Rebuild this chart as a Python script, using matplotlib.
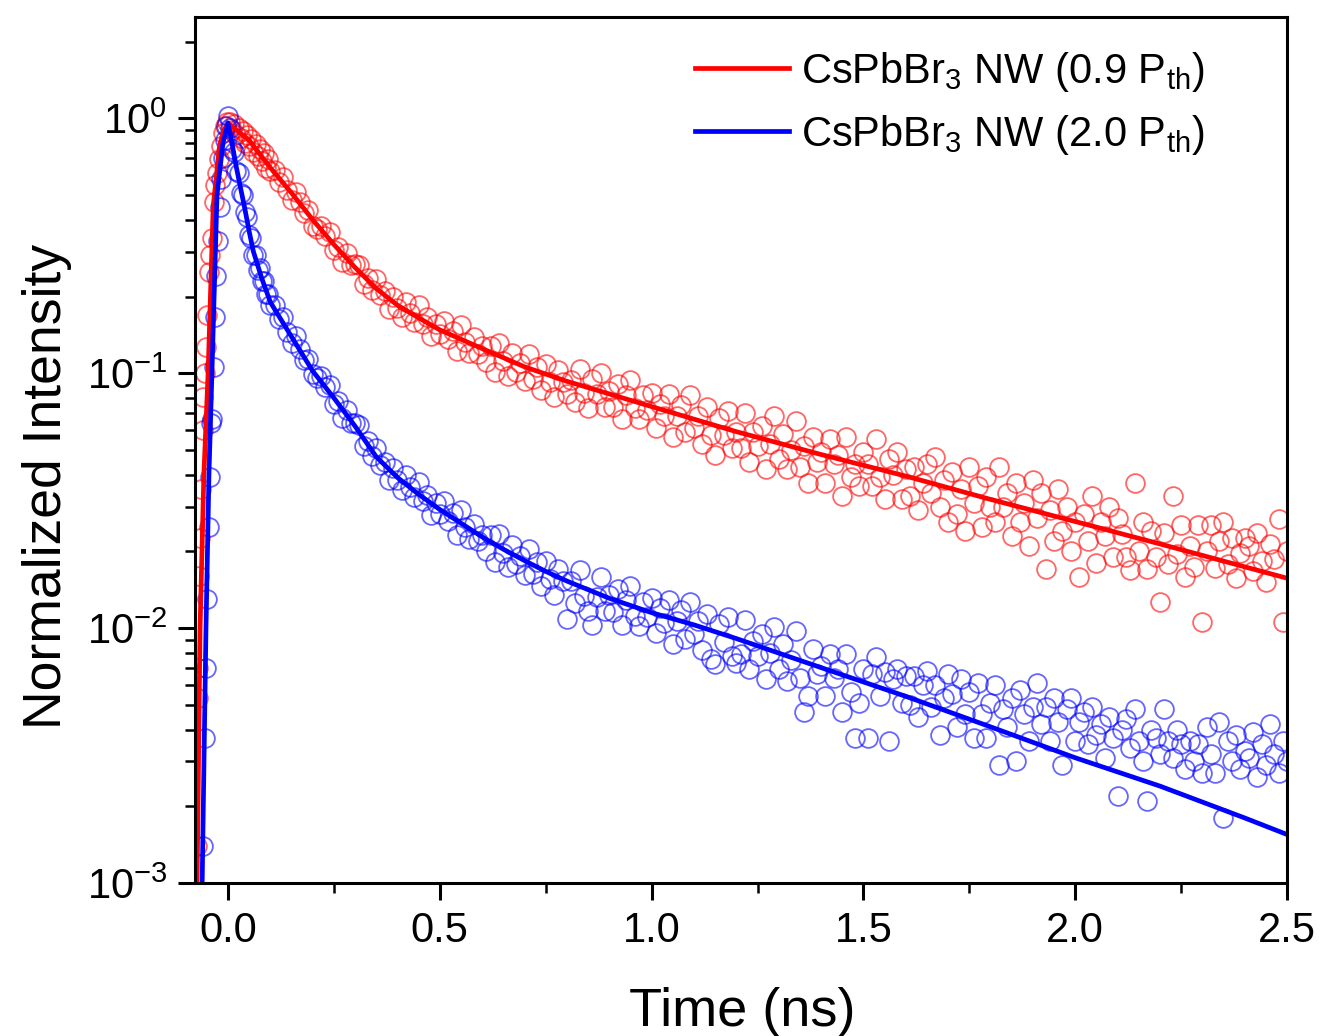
import matplotlib
matplotlib.use("Agg")
import matplotlib.pyplot as plt
from matplotlib.ticker import LogLocator, MultipleLocator, NullFormatter

plt.rcParams['font.family'] = ['Liberation Sans', 'DejaVu Sans']
plt.rcParams['mathtext.fontset'] = 'custom'
plt.rcParams['mathtext.rm'] = 'Liberation Sans'
plt.rcParams['mathtext.it'] = 'Liberation Sans:italic'
plt.rcParams['mathtext.bf'] = 'Liberation Sans:bold'

# rising edge of each transient (ns, normalized counts)
red_rise_t = [-0.074, -0.072, -0.070, -0.068, -0.066, -0.063, -0.060, -0.058, -0.055, -0.052, -0.049,
              -0.046, -0.042, -0.038, -0.034, -0.030, -0.026, -0.021, -0.016, -0.011, -0.006, -0.002]
red_rise_y = [0.0014, 0.0053, 0.007, 0.016, 0.0226, 0.035, 0.06, 0.081, 0.10, 0.127, 0.17,
              0.25, 0.29, 0.34, 0.47, 0.55, 0.61, 0.69, 0.78, 0.88, 0.93, 0.97]
blue_rise_t = [-0.058, -0.055, -0.052, -0.049, -0.046, -0.043, -0.040, -0.037, -0.034,
               -0.031, -0.028, -0.024, -0.020, -0.016, -0.012, -0.008, -0.004, 0.0]
blue_rise_y = [0.0014, 0.0037, 0.007, 0.013, 0.025, 0.039, 0.064, 0.066, 0.106,
               0.167, 0.24, 0.33, 0.45, 0.58, 0.70, 0.82, 0.93, 1.02]

# decay time channels (ns)
time_ns = [
    0.005, 0.01, 0.015, 0.02, 0.025, 0.03, 0.035, 0.04, 0.045, 0.05,
    0.055, 0.06, 0.065, 0.07, 0.075, 0.08, 0.085, 0.09, 0.095, 0.10,
    0.11, 0.12, 0.13, 0.14, 0.15, 0.16, 0.17, 0.18, 0.19, 0.20,
    0.21, 0.22, 0.23, 0.24, 0.25, 0.26, 0.27, 0.28, 0.29, 0.30,
    0.31, 0.32, 0.33, 0.34, 0.35, 0.36, 0.37, 0.38, 0.39, 0.40,
    0.41, 0.42, 0.43, 0.44, 0.45, 0.46, 0.47, 0.48, 0.49, 0.50,
    0.51, 0.52, 0.53, 0.54, 0.55, 0.56, 0.57, 0.58, 0.59, 0.60,
    0.61, 0.62, 0.63, 0.64, 0.65, 0.66, 0.67, 0.68, 0.69, 0.70,
    0.71, 0.72, 0.73, 0.74, 0.75, 0.76, 0.77, 0.78, 0.79, 0.80,
    0.81, 0.82, 0.83, 0.84, 0.85, 0.86, 0.87, 0.88, 0.89, 0.90,
    0.91, 0.92, 0.93, 0.94, 0.95, 0.96, 0.97, 0.98, 0.99, 1.00,
    1.01, 1.02, 1.03, 1.04, 1.05, 1.06, 1.07, 1.08, 1.09, 1.10,
    1.11, 1.12, 1.13, 1.14, 1.15, 1.16, 1.17, 1.18, 1.19, 1.20,
    1.21, 1.22, 1.23, 1.24, 1.25, 1.26, 1.27, 1.28, 1.29, 1.30,
    1.31, 1.32, 1.33, 1.34, 1.35, 1.36, 1.37, 1.38, 1.39, 1.40,
    1.41, 1.42, 1.43, 1.44, 1.45, 1.46, 1.47, 1.48, 1.49, 1.50,
    1.51, 1.52, 1.53, 1.54, 1.55, 1.56, 1.57, 1.58, 1.59, 1.60,
    1.61, 1.62, 1.63, 1.64, 1.65, 1.66, 1.67, 1.68, 1.69, 1.70,
    1.71, 1.72, 1.73, 1.74, 1.75, 1.76, 1.77, 1.78, 1.79, 1.80,
    1.81, 1.82, 1.83, 1.84, 1.85, 1.86, 1.87, 1.88, 1.89, 1.90,
    1.91, 1.92, 1.93, 1.94, 1.95, 1.96, 1.97, 1.98, 1.99, 2.00,
    2.01, 2.02, 2.03, 2.04, 2.05, 2.06, 2.07, 2.08, 2.09, 2.10,
    2.11, 2.12, 2.13, 2.14, 2.15, 2.16, 2.17, 2.18, 2.19, 2.20,
    2.21, 2.22, 2.23, 2.24, 2.25, 2.26, 2.27, 2.28, 2.29, 2.30,
    2.31, 2.32, 2.33, 2.34, 2.35, 2.36, 2.37, 2.38, 2.39, 2.40,
    2.41, 2.42, 2.43, 2.44, 2.45, 2.46, 2.47, 2.48, 2.49, 2.50,
]

# 0.9 Pth decay
red_y = [
    0.97, 0.90, 0.95, 0.86, 0.92, 0.84, 0.89, 0.80, 0.86, 0.78,
    0.83, 0.74, 0.79, 0.71, 0.76, 0.68, 0.73, 0.64, 0.69, 0.62,
    0.628, 0.562, 0.588, 0.524, 0.479, 0.514, 0.470, 0.427, 0.437, 0.380,
    0.369, 0.380, 0.347, 0.358, 0.304, 0.313, 0.274, 0.297, 0.266, 0.268,
    0.265, 0.223, 0.237, 0.212, 0.234, 0.202, 0.210, 0.178, 0.200, 0.181,
    0.167, 0.191, 0.173, 0.159, 0.185, 0.156, 0.166, 0.140, 0.156, 0.142,
    0.161, 0.136, 0.147, 0.122, 0.155, 0.133, 0.120, 0.139, 0.119, 0.128,
    0.111, 0.128, 0.101, 0.131, 0.112, 0.098, 0.120, 0.101, 0.110, 0.093,
    0.119, 0.095, 0.106, 0.086, 0.109, 0.092, 0.081, 0.103, 0.092, 0.083,
    0.094, 0.077, 0.104, 0.084, 0.073, 0.095, 0.083, 0.100, 0.074, 0.085,
    0.074, 0.091, 0.066, 0.082, 0.094, 0.073, 0.066, 0.082, 0.072, 0.084,
    0.061, 0.076, 0.068, 0.083, 0.056, 0.068, 0.075, 0.059, 0.082, 0.061,
    0.068, 0.053, 0.074, 0.057, 0.048, 0.067, 0.057, 0.071, 0.051, 0.059,
    0.051, 0.070, 0.045, 0.059, 0.052, 0.062, 0.042, 0.053, 0.068, 0.046,
    0.058, 0.042, 0.050, 0.065, 0.043, 0.052, 0.037, 0.056, 0.045, 0.049,
    0.037, 0.055, 0.044, 0.048, 0.033, 0.056, 0.039, 0.044, 0.036, 0.049,
    0.044, 0.036, 0.055, 0.039, 0.032, 0.046, 0.040, 0.049, 0.032, 0.042,
    0.033, 0.043, 0.029, 0.037, 0.044, 0.034, 0.047, 0.030, 0.038, 0.026,
    0.041, 0.028, 0.035, 0.024, 0.043, 0.031, 0.036, 0.025, 0.039, 0.030,
    0.026, 0.043, 0.030, 0.034, 0.023, 0.037, 0.026, 0.031, 0.021, 0.038,
    0.027, 0.034, 0.017, 0.029, 0.022, 0.035, 0.024, 0.030, 0.020, 0.026,
    0.0159, 0.028, 0.022, 0.033, 0.018, 0.026, 0.023, 0.030, 0.019, 0.027,
    0.0235, 0.019, 0.0169, 0.037, 0.020, 0.026, 0.017, 0.024, 0.019, 0.0127,
    0.0237, 0.0179, 0.033, 0.0196, 0.0255, 0.0158, 0.021, 0.0174, 0.0255, 0.0106,
    0.0201, 0.0255, 0.0172, 0.0219, 0.026, 0.0178, 0.0225, 0.0157, 0.0197, 0.0226,
    0.021, 0.0167, 0.0237, 0.0184, 0.0152, 0.0213, 0.0186, 0.0269, 0.0106, 0.0201,
]

# 2.0 Pth decay
blue_y = [
    0.92, 0.76, 0.74, 0.62, 0.61, 0.51, 0.50, 0.43, 0.41, 0.35,
    0.34, 0.29, 0.29, 0.255, 0.26, 0.23, 0.23, 0.205, 0.205, 0.185,
    0.185, 0.163, 0.166, 0.145, 0.132, 0.140, 0.125, 0.113, 0.114, 0.099,
    0.096, 0.098, 0.088, 0.090, 0.076, 0.078, 0.067, 0.072, 0.064, 0.064,
    0.0625, 0.052, 0.054, 0.0475, 0.051, 0.0437, 0.045, 0.038, 0.0423, 0.0382,
    0.0349, 0.0399, 0.0359, 0.0328, 0.0375, 0.0316, 0.0333, 0.0277, 0.0309, 0.0280,
    0.0314, 0.0264, 0.0282, 0.0232, 0.0292, 0.0249, 0.0224, 0.0257, 0.0220, 0.0233,
    0.0201, 0.0231, 0.0181, 0.0234, 0.0198, 0.0174, 0.0212, 0.0179, 0.0192, 0.0162,
    0.0205, 0.0163, 0.0182, 0.0146, 0.0184, 0.0156, 0.0135, 0.0171, 0.0153, 0.0109,
    0.0153, 0.0126, 0.0169, 0.0134, 0.0117, 0.0103, 0.0133, 0.0159, 0.0117, 0.0135,
    0.0116, 0.0142, 0.0103, 0.0129, 0.0146, 0.0112, 0.0102, 0.0127, 0.0111, 0.0131,
    0.0096, 0.0120, 0.0105, 0.0129, 0.0087, 0.0107, 0.0118, 0.0091, 0.0127, 0.0095,
    0.0107, 0.0082, 0.0114, 0.0076, 0.0072, 0.0104, 0.0088, 0.0111, 0.0078, 0.0073,
    0.0079, 0.0108, 0.0069, 0.0089, 0.0078, 0.0095, 0.0063, 0.0080, 0.0101, 0.0069,
    0.0087, 0.0062, 0.0075, 0.0097, 0.0064, 0.0047, 0.0054, 0.0083, 0.0066, 0.0071,
    0.0054, 0.0079, 0.0064, 0.0069, 0.0047, 0.0079, 0.0056, 0.0037, 0.0051, 0.0069,
    0.0037, 0.0066, 0.0077, 0.0054, 0.0067, 0.0036, 0.0063, 0.0069, 0.0051, 0.0065,
    0.0050, 0.0065, 0.0045, 0.0060, 0.0068, 0.0049, 0.0060, 0.0038, 0.0053, 0.0066,
    0.0055, 0.0041, 0.0063, 0.0046, 0.0056, 0.0037, 0.0061, 0.0046, 0.0037, 0.0051,
    0.0060, 0.0029, 0.0048, 0.0041, 0.0053, 0.0030, 0.0057, 0.0046, 0.0036, 0.0049,
    0.0061, 0.0042, 0.0049, 0.0036, 0.0053, 0.0043, 0.0029, 0.0048, 0.0053, 0.0036,
    0.0043, 0.0047, 0.0035, 0.0049, 0.0038, 0.0042, 0.0031, 0.0045, 0.0037, 0.0022,
    0.0040, 0.0044, 0.0034, 0.0048, 0.0036, 0.0030, 0.0021, 0.0040, 0.0037, 0.0032,
    0.0048, 0.0036, 0.0031, 0.0040, 0.0035, 0.0028, 0.0036, 0.0030, 0.0035, 0.0027,
    0.0041, 0.0032, 0.0027, 0.0043, 0.0018, 0.0036, 0.0030, 0.0038, 0.0028, 0.0033,
    0.0031, 0.0039, 0.0026, 0.0035, 0.0029, 0.0042, 0.0032, 0.0027, 0.0036, 0.0030,
]

# fitted curves
red_fit_t = [-0.073, -0.066, -0.057, -0.047, -0.035, -0.02, -0.01, 0.003, 0.02, 0.05, 0.1, 0.15, 0.2,
             0.25, 0.3, 0.35, 0.4, 0.45, 0.5, 0.6, 0.7, 0.8, 0.9, 1.0, 1.2, 1.4, 1.6, 1.8, 2.0,
             2.2, 2.4, 2.5]
red_fit_y = [0.001, 0.01, 0.04, 0.1, 0.45, 0.78, 0.9, 0.95, 0.9, 0.82, 0.64, 0.51, 0.40,
             0.32, 0.26, 0.215, 0.185, 0.165, 0.148, 0.125, 0.106, 0.093, 0.083, 0.074, 0.059,
             0.048, 0.0395, 0.032, 0.0262, 0.0214, 0.0174, 0.0157]
blue_fit_t = [-0.061, -0.052, -0.045, -0.038, -0.026, -0.012, 0.0, 0.01, 0.02, 0.03, 0.04, 0.05,
              0.06, 0.08, 0.1, 0.14, 0.2, 0.25, 0.3, 0.35, 0.4, 0.45, 0.5, 0.55, 0.6, 0.65, 0.7,
              0.75, 0.8, 0.9, 1.0, 1.1, 1.2, 1.4, 1.6, 1.8, 2.0, 2.2, 2.4, 2.5]
blue_fit_y = [0.001, 0.01, 0.04, 0.1, 0.5, 0.8, 0.96, 0.79, 0.64, 0.53, 0.44, 0.36,
              0.30, 0.235, 0.19, 0.148, 0.102, 0.08, 0.062, 0.047, 0.039, 0.0335, 0.0292, 0.0258,
              0.0228, 0.0204, 0.0184, 0.0167, 0.0153, 0.0131, 0.0115, 0.0103, 0.0091, 0.0070,
              0.0054, 0.0041, 0.0031, 0.0024, 0.0018, 0.00155]

labels = [r'CsPbBr$_3$ NW (0.9 P$_{\mathrm{th}}$)', r'CsPbBr$_3$ NW (2.0 P$_{\mathrm{th}}$)']

fig = plt.figure(figsize=(13.2, 10.36), dpi=100)
ax = fig.add_axes([0.1477, 0.1477, 0.8273, 0.8359])

mk = dict(ls='none', marker='o', ms=13.5, mfc='none', mew=1.3)
ax.plot(red_rise_t + time_ns, red_rise_y + red_y, mec=(1, 0, 0, 0.6), **mk)
ax.plot(blue_rise_t + time_ns, blue_rise_y + blue_y, mec=(0, 0, 1, 0.6), **mk)
ax.plot(red_fit_t, red_fit_y, color='#ff0000', lw=3.4, label=labels[0])
ax.plot(blue_fit_t, blue_fit_y, color='#0000ff', lw=3.4, label=labels[1])

ax.set_yscale('log')
ax.set_xlim(-0.078, 2.5)
ax.set_ylim(1e-3, 2.5)
ax.xaxis.set_major_locator(MultipleLocator(0.5))
ax.xaxis.set_minor_locator(MultipleLocator(0.25))
ax.xaxis.set_major_formatter(plt.FormatStrFormatter('%.1f'))
ax.yaxis.set_major_locator(LogLocator(base=10))
ax.yaxis.set_minor_locator(LogLocator(base=10, subs=range(2, 10)))
ax.yaxis.set_minor_formatter(NullFormatter())

for s in ax.spines.values():
    s.set_linewidth(2.2)
ax.tick_params(which='major', direction='out', length=12, width=2.2, labelsize=30, pad=8,
               top=False, right=False)
ax.tick_params(which='minor', direction='out', length=7, width=1.8, top=False, right=False)

ax.set_xlabel('Time (ns)', fontsize=39)
ax.set_ylabel('Normalized Intensity', fontsize=38.5)
ax.xaxis.set_label_coords(0.501, -0.12)
ax.yaxis.set_label_coords(-0.113, 0.458)

ax.legend(loc='upper right', bbox_to_anchor=(0.925, 0.962), frameon=False, fontsize=30,
          handlelength=2.25, handletextpad=0.3, labelspacing=0.45, borderpad=0, borderaxespad=0)

fig.savefig('out.png', dpi=100)
